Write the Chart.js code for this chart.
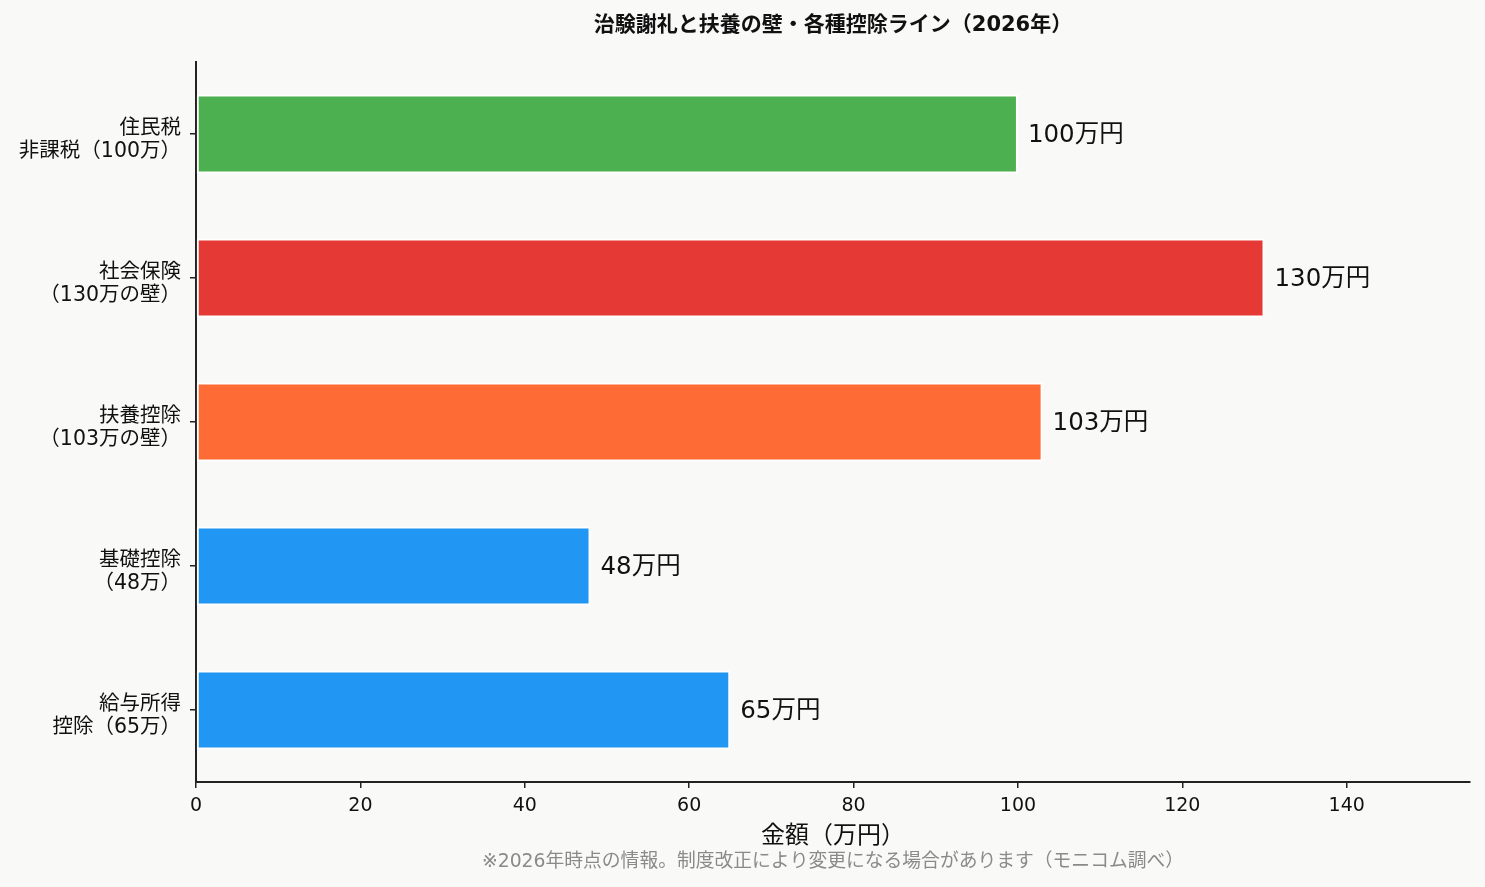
<!DOCTYPE html>
<html lang="ja">
<head>
<meta charset="utf-8">
<title>治験謝礼と扶養の壁</title>
<script src="https://cdn.jsdelivr.net/npm/chart.js@4.4.1/dist/chart.umd.min.js"></script>
<style>
  html, body { margin: 0; padding: 0; background: #f9faf8; }
  #wrap { width: 1485px; height: 887px; position: relative; }
</style>
</head>
<body>
<div id="wrap"><canvas id="myChart" width="1485" height="887"></canvas></div>
<script>
const categories = [
  ["住民税", "非課税（100万）"],
  ["社会保険", "（130万の壁）"],
  ["扶養控除", "（103万の壁）"],
  ["基礎控除", "（48万）"],
  ["給与所得", "控除（65万）"],
];
const amounts = [100, 130, 103, 48, 65];
const barColors = ["#4caf50", "#e53935", "#ff6b35", "#2196f3", "#2196f3"];
const xTicks = [0, 20, 40, 60, 80, 100, 120, 140];

const chartTitle = "治験謝礼と扶養の壁・各種控除ライン（2026年）";
const xTitle = "金額（万円）";
const footNote = "※2026年時点の情報。制度改正により変更になる場合があります（モニコム調べ）";

// latin digits from DejaVu (wider), kana/kanji fall back to Noto CJK
const fontFamily = `"DejaVu Sans", "Noto Sans CJK JP", sans-serif`;

// background, title, value labels and footnote
const extras = {
  id: "extras",
  beforeDraw(chart) {
    const ctx = chart.ctx;
    ctx.save();
    ctx.fillStyle = "#f9faf8";
    ctx.fillRect(0, 0, chart.width, chart.height);
    ctx.restore();
  },
  afterDatasetsDraw(chart) {
    const ctx = chart.ctx;
    const area = chart.chartArea;
    const meta = chart.getDatasetMeta(0);
    ctx.save();
    ctx.fillStyle = "#111";
    ctx.font = `24.5px ${fontFamily}`;
    ctx.textAlign = "left";
    ctx.textBaseline = "middle";
    meta.data.forEach((bar, i) => {
      ctx.fillText(amounts[i] + "万円", bar.x + 10, bar.y + 2);
    });

    const cx = (area.left + area.right) / 2;
    ctx.textAlign = "center";
    ctx.font = `bold 21px ${fontFamily}`;
    ctx.fillText(chartTitle, cx, 26);

    ctx.font = `24px ${fontFamily}`;
    ctx.fillText(xTitle, cx, 837);

    ctx.fillStyle = "#8a8a8a";
    ctx.font = `18.8px ${fontFamily}`;
    ctx.fillText(footNote, cx, 862);
    ctx.restore();
  },
};

new Chart(document.getElementById("myChart").getContext("2d"), {
  type: "bar",
  data: {
    labels: categories,
    datasets: [
      {
        data: amounts,
        backgroundColor: barColors,
        borderColor: "#ffffff",
        borderWidth: 2,
        borderSkipped: false,
        barPercentage: 0.55,
        categoryPercentage: 1,
      },
    ],
  },
  options: {
    indexAxis: "y",
    responsive: false,
    animation: false,
    layout: { padding: { top: 62, right: 15, left: 0, bottom: 0 } },
    plugins: {
      legend: { display: false },
      tooltip: { enabled: false },
    },
    scales: {
      x: {
        min: 0,
        max: 155,
        afterBuildTicks: (scale) => {
          scale.ticks = xTicks.map((v) => ({ value: v }));
        },
        afterFit: (scale) => {
          scale.height = 105;
        },
        border: { display: true, color: "#222", width: 2 },
        grid: { drawOnChartArea: false, drawTicks: true, tickLength: 6, color: "#222", lineWidth: 1.5 },
        ticks: { color: "#111", font: { family: fontFamily, size: 19 }, padding: 7, maxRotation: 0 },
      },
      y: {
        afterFit: (scale) => {
          scale.width = 196;
        },
        border: { display: true, color: "#222", width: 2 },
        grid: { offset: false, drawOnChartArea: false, drawTicks: true, tickLength: 6, color: "#222", lineWidth: 1.5 },
        ticks: {
          color: "#111",
          font: { family: fontFamily, size: 20.5, lineHeight: 1.15 },
          padding: 9,
          labelOffset: 6,
        },
      },
    },
  },
  plugins: [extras],
});
</script>
</body>
</html>
